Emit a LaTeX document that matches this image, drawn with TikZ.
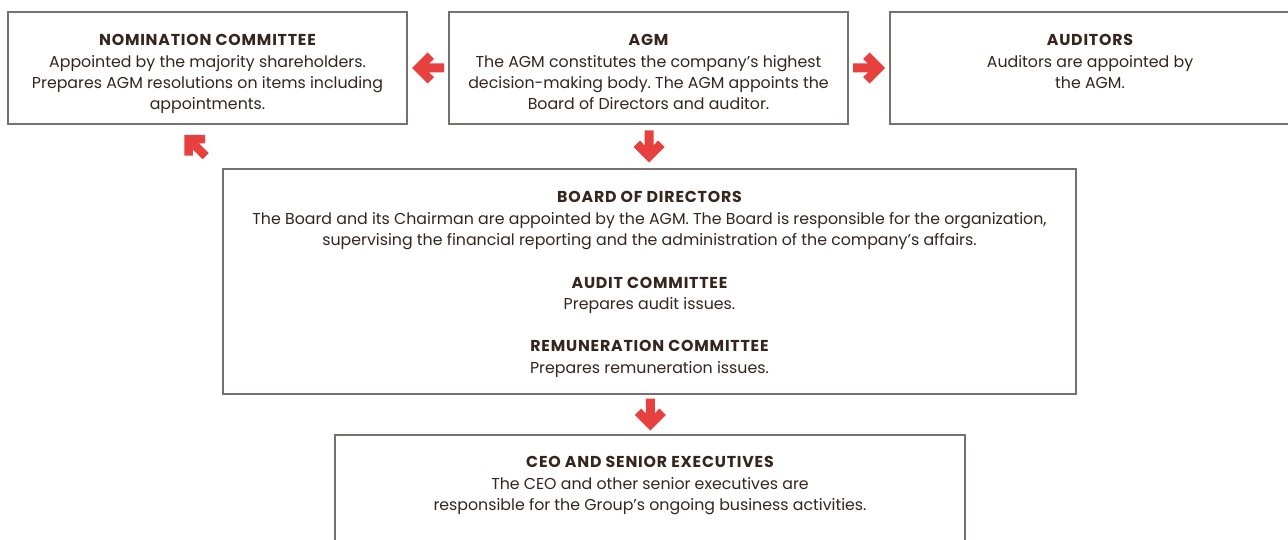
\documentclass[tikz,border=0pt]{standalone}
\usepackage{fontspec}
\setmainfont{Poppins}
\usetikzlibrary{calc}
\definecolor{frame}{HTML}{76716B}
\definecolor{ink}{HTML}{35251D}
\definecolor{arrowred}{HTML}{E7403F}
\newcommand{\hd}[1]{{\bfseries\addfontfeature{LetterSpace=5}#1}}
\frenchspacing
\tikzset{
  box/.style={draw=frame, line width=1.2pt, fill=white, inner sep=0pt},
  txt/.style={text=ink, align=center, inner sep=0pt, anchor=north,
    font=\fontsize{15.8}{21.3}\selectfont},
  blockarrow/.pic={
    \fill[arrowred] (16,0) -- (0.5,-15.5) -- (-5.9,-9.1) -- (-1.2,-4.5)
      -- (-16,-4.5) -- (-16,4.5) -- (-1.2,4.5) -- (-5.9,9.1)
      -- (0.5,15.5) -- cycle;
  }
}
\begin{document}
\begin{tikzpicture}[x=1pt,y=-1pt]
\clip (0,0) rectangle (1288,540);
\fill[white] (0,0) rectangle (1288,540);

% boxes
\node[box, minimum width=399pt, minimum height=112pt] (nom) at (207.5,68) {};
\node[box, minimum width=399pt, minimum height=112pt] (agm) at (648.5,68) {};
\node[box, minimum width=400pt, minimum height=112pt] (aud) at (1090,68) {};
\node[box, minimum width=853pt, minimum height=225pt] (board) at (649.5,281.5) {};
\node[box, minimum width=630pt, minimum height=200pt] (ceo) at (650,535) {};

% texts
\node[txt] (nomtxt) at ($(nom.north)+(0,23)$)
  {\hd{NOMINATION COMMITTEE}\\Appointed by the majority shareholders.\\
   Prepares AGM resolutions on items including\\appointments.};
\node[txt] (agmtxt) at ($(agm.north)+(0,23)$)
  {\hd{AGM}\\The AGM constitutes the company’s highest\\
   decision-making body. The AGM appoints the\\Board of Directors and auditor.};
\node[txt] (audtxt) at ($(aud.north)+(0,23)$)
  {\hd{AUDITORS}\\Auditors are appointed by\\the AGM.};
\node[txt] (boardtxt) at ($(board.north)+(0,23)$)
  {\hd{BOARD OF DIRECTORS}\\
   The Board and its Chairman are appointed by the AGM. The Board is responsible for the organization,\\
   supervising the financial reporting and the administration of the company’s affairs.\\[21.3pt]
   \hd{AUDIT COMMITTEE}\\Prepares audit issues.\\[21.3pt]
   \hd{REMUNERATION COMMITTEE}\\Prepares remuneration issues.};
\node[txt] (ceotxt) at ($(ceo.north)+(0,22)$)
  {\hd{CEO AND SENIOR EXECUTIVES}\\The CEO and other senior executives are\\
   responsible for the Group’s ongoing business activities.};

% arrows between the boxes
\pic[rotate=180] at ($(nom.east)!0.5!(agm.west)$) {blockarrow};
\pic at ($(agm.east)!0.5!(aud.west)$) {blockarrow};
\pic[rotate=-90] at ($(agm.south)!0.5!(board.north)$) {blockarrow};
\pic[rotate=-90] at ($(board.south)!0.5!(ceo.north)+(0.5,0)$) {blockarrow};
\pic[rotate=135, scale=0.95] at (195,145.5) {blockarrow};
\end{tikzpicture}
\end{document}
